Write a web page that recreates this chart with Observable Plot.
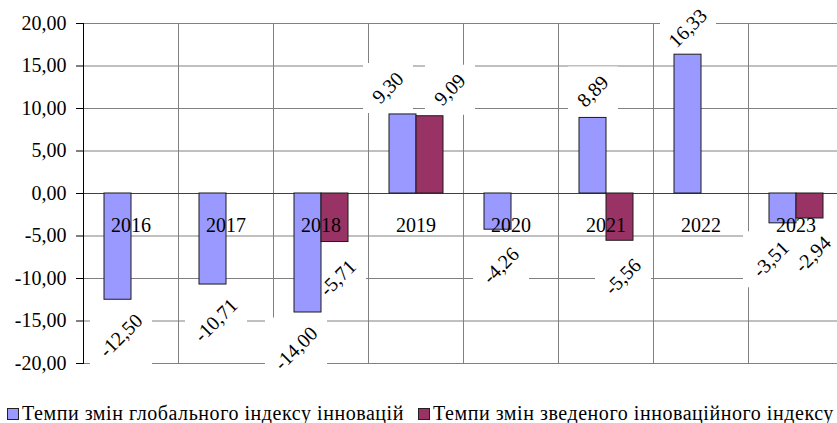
<!DOCTYPE html>
<html>
<head>
<meta charset="utf-8">
<script src="https://cdn.jsdelivr.net/npm/d3@7"></script>
<script src="https://cdn.jsdelivr.net/npm/@observablehq/plot@0.6"></script>
<style>
  html, body { margin: 0; padding: 0; background: #fff; overflow: hidden; }
  #chart { position: relative; width: 837px; height: 423px; }
  #legend { position: absolute; top: 0; left: 0; font-family: "Liberation Serif", "Times New Roman", serif; font-size: 20px; line-height: 20px; white-space: nowrap; color: #000; }
  #legend .item { position: absolute; top: 403px; letter-spacing: 0.55px; }
  #legend .sw { display: inline-block; width: 12px; height: 12px; border: 1px solid #222; margin-right: 3px; box-sizing: border-box; }
</style>
</head>
<body>
<div id="chart"></div>
<script>
const years = ["2016", "2017", "2018", "2019", "2020", "2021", "2022", "2023"];
const seriesNames = [
  "Темпи змін глобального індексу інновацій",
  "Темпи змін зведеного інноваційного індексу"
];
const globalIndex = [-12.50, -10.71, -14.00, 9.30, -4.26, 8.89, 16.33, -3.51];
const compositeIndex = [null, null, -5.71, 9.09, null, -5.56, null, -2.94];
const yTicks = [-20, -15, -10, -5, 0, 5, 10, 15, 20];
const colors = ["#9999FF", "#993366"];

const fmt = v => v.toFixed(2).replace(".", ",");

const seriesValues = [globalIndex, compositeIndex];
const rows = years.flatMap((year, i) =>
  seriesValues
    .map((vals, s) => ({year, s, series: seriesNames[s], value: vals[i]}))
    .filter(d => d.value != null)
);
rows.forEach(d => {
  const other = seriesValues[1 - d.s][years.indexOf(d.year)];
  d.paired = other != null && Math.sign(other) === Math.sign(d.value);
});

const font = "Liberation Serif";
const boxes = [];
const texts = [];
function labels(subset, dx, dy) {
  for (const n of [4, 5, 6]) {
    const part = subset.filter(d => fmt(d.value).length === n);
    if (part.length) boxes.push(Plot.dot(part, {
      fx: "year", x: "series", y: "value", dx, dy,
      symbol: "square", r: (26 + 6 * n) / Math.sqrt(Math.PI),
      fill: "white", stroke: "none"
    }));
  }
  texts.push(Plot.text(subset, {
    fx: "year", x: "series", y: "value", dx, dy,
    text: d => fmt(d.value), rotate: -45,
    fontSize: 20, fontFamily: font, fill: "black",
    textAnchor: "middle", lineAnchor: "middle"
  }));
}
const pos = rows.filter(d => d.value > 0), neg = rows.filter(d => d.value < 0);
labels(pos.filter(d => !d.paired), 0, -26.5);
labels(pos.filter(d => d.paired && d.s === 0), -15, -26.5);
labels(pos.filter(d => d.paired && d.s === 1), 20, -26.5);
labels(neg.filter(d => !d.paired), 3, 36);
labels(neg.filter(d => d.paired && d.s === 0), -12, 36);
labels(neg.filter(d => d.paired && d.s === 1), 3, 36);

const chart = Plot.plot({
  width: 843,
  height: 385,
  marginLeft: 82,
  marginRight: 0,
  marginTop: 23,
  marginBottom: 22,
  style: {fontFamily: font, fontSize: "20px", background: "white", color: "black", maxWidth: "none", overflow: "visible"},
  fx: {domain: years, padding: 0, axis: null},
  x: {domain: seriesNames, paddingInner: 0, paddingOuter: 0.75, axis: null},
  y: {domain: [-20, 20], axis: null},
  color: {domain: seriesNames, range: colors},
  marks: [
    Plot.gridY(yTicks, {stroke: "#808080", strokeOpacity: 1}),
    Plot.frame({stroke: "#808080"}),
    Plot.ruleY([0], {stroke: "#404040"}),
    Plot.frame({anchor: "left", facetAnchor: "left", stroke: "black"}),
    Plot.axisY(yTicks, {anchor: "left", label: null, tickSize: 7, tickPadding: 10, tickFormat: fmt, fontSize: 20, fontFamily: font, stroke: "black", fill: "black"}),
    ...boxes,
    Plot.barY(rows, {fx: "year", x: "series", y: "value", fill: "series", stroke: "#1a1a1a", strokeWidth: 1}),
    Plot.text(years, {fx: d => d, y: () => 0, dy: 32, text: d => d, fontSize: 20, fontFamily: font, fill: "black", textAnchor: "middle", lineAnchor: "middle"}),
    ...texts
  ]
});
document.getElementById("chart").appendChild(chart);

const legend = document.createElement("div");
legend.id = "legend";
const legendLeft = [7, 418];
seriesNames.forEach((name, i) => {
  const item = document.createElement("span");
  item.className = "item";
  item.style.left = legendLeft[i] + "px";
  const sw = document.createElement("span");
  sw.className = "sw";
  sw.style.background = colors[i];
  item.appendChild(sw);
  item.appendChild(document.createTextNode(name));
  legend.appendChild(item);
});
document.getElementById("chart").appendChild(legend);
</script>
</body>
</html>
